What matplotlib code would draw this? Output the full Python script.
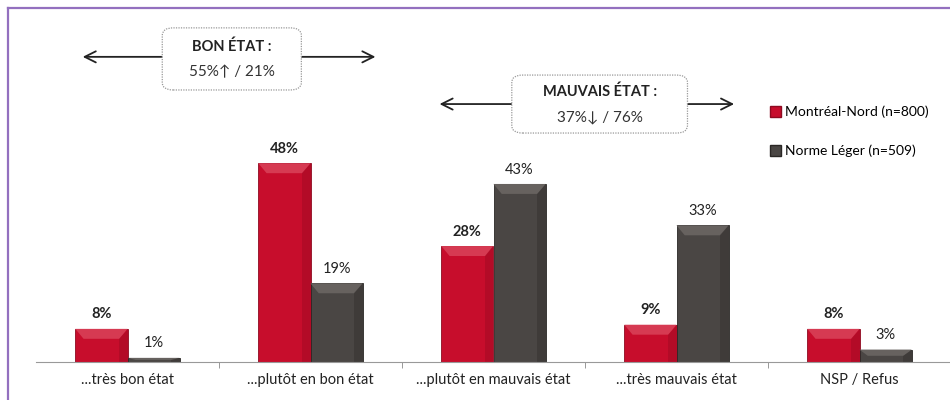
import matplotlib.pyplot as plt
import matplotlib.lines as mlines
from matplotlib.patches import FancyBboxPatch, Patch, Polygon
import numpy as np

plt.rcParams['font.family'] = ['Lato', 'DejaVu Sans']

categories = ['...très bon état', '...plutôt en bon état', '...plutôt en mauvais état',
              '...très mauvais état', 'NSP / Refus']
montreal_nord = [8, 48, 28, 9, 8]
norme_leger = [1, 19, 43, 33, 3]
series_names = ['Montréal-Nord (n=800)', 'Norme Léger (n=509)']

red = '#C70D2C'
grey = '#4A4644'

fig = plt.figure(figsize=(9.5, 4.0), dpi=100)
ax = fig.add_axes([36 / 950, 38 / 400, 915 / 950, 342 / 400])

x = np.arange(len(categories))
w = 0.285
b1 = ax.bar(x - w / 2, montreal_nord, w, color=red, edgecolor='#8E0A20', linewidth=0.6)
b2 = ax.bar(x + w / 2, norme_leger, w, color=grey, edgecolor='#2A2725', linewidth=0.6)


# bevel look: lighter top face, darker sides
def bevel(bars, top_col, side_col):
    for r in bars:
        x0, x1, h = r.get_x(), r.get_x() + r.get_width(), r.get_height()
        dy = min(2.4, h / 2)
        dx = 0.045
        ax.add_patch(Polygon([(x0, h), (x1, h), (x1 - dx, h - dy), (x0 + dx, h - dy)],
                             closed=True, fc=top_col, ec='none', zorder=2.5))
        ax.add_patch(Polygon([(x1, h), (x1, 0), (x1 - dx, 0), (x1 - dx, h - dy)],
                             closed=True, fc=side_col, ec='none', zorder=2.5, alpha=0.5))


bevel(b1, '#D63A52', '#A00A24')
bevel(b2, '#67625F', '#35312F')

for rect, v in zip(b1, montreal_nord):
    ax.text(rect.get_x() + rect.get_width() / 2, v + 1.8, f'{v}%', ha='center', va='bottom',
            fontsize=10.5, fontweight='bold', color='#222222')
for rect, v in zip(b2, norme_leger):
    ax.text(rect.get_x() + rect.get_width() / 2, v + 1.8, f'{v}%', ha='center', va='bottom',
            fontsize=10.5, color='#222222')

ax.set_xlim(-0.5, len(categories) - 0.5)
ax.set_ylim(0, 82.6)
ax.set_yticks([])
ax.set_xticks(x)
ax.set_xticklabels(categories, fontsize=10.5, color='#222222')
ax.tick_params(axis='x', length=0, pad=8)
ax.set_xticks(np.arange(len(categories)) + 0.5, minor=True)
ax.tick_params(axis='x', which='minor', length=4, color='#888888', direction='out')
for s in ['top', 'right', 'left']:
    ax.spines[s].set_visible(False)
ax.spines['bottom'].set_color('#999999')


def bracket(x0, x1, y, bx0, bx1, by0, by1, title, sub):
    cx = (bx0 + bx1) / 2
    ax.annotate('', xy=(x0, y), xytext=(cx, y),
                arrowprops=dict(arrowstyle='->', color='#222222', lw=1.3, mutation_scale=20))
    ax.annotate('', xy=(x1, y), xytext=(cx, y),
                arrowprops=dict(arrowstyle='->', color='#222222', lw=1.3, mutation_scale=20))
    box = FancyBboxPatch((bx0, by0), bx1 - bx0, by1 - by0,
                         boxstyle='round,pad=0,rounding_size=0.06', mutation_aspect=30,
                         fc='white', ec='#999999', ls=(0, (1, 1)), lw=0.9, zorder=4)
    ax.add_patch(box)
    cy = (by0 + by1) / 2
    ax.text(cx, cy + 3.0, title, ha='center', va='center', fontsize=10.5, fontweight='bold',
            color='#222222', zorder=5)
    ax.text(cx, cy - 3.2, sub, ha='center', va='center', fontsize=11, color='#333333', zorder=5)


bracket(-0.26, 1.37, 73.7, 0.19, 0.95, 65.7, 80.7, 'BON ÉTAT :', '55%↑ / 21%')
bracket(1.69, 3.33, 62.3, 2.10, 3.06, 55.3, 69.3, 'MAUVAIS ÉTAT :', '37%↓ / 76%')

handles = [Patch(facecolor=red, edgecolor='#8E0A20'), Patch(facecolor=grey, edgecolor='#2A2725')]
fig.legend(handles, series_names, loc='upper left', bbox_to_anchor=(764 / 950, 1 - 100 / 400),
           frameon=False, fontsize=10, handlelength=0.8, handleheight=0.8, handletextpad=0.3,
           labelspacing=1.9, borderaxespad=0)

# frame around the slide
fig.add_artist(mlines.Line2D([8 / 950, 8 / 950], [0, 1 - 8 / 400], color='#9370BF', lw=1.6))
fig.add_artist(mlines.Line2D([8 / 950, 1], [1 - 8 / 400, 1 - 8 / 400], color='#9370BF', lw=1.6))

fig.savefig('out.png', dpi=100)
